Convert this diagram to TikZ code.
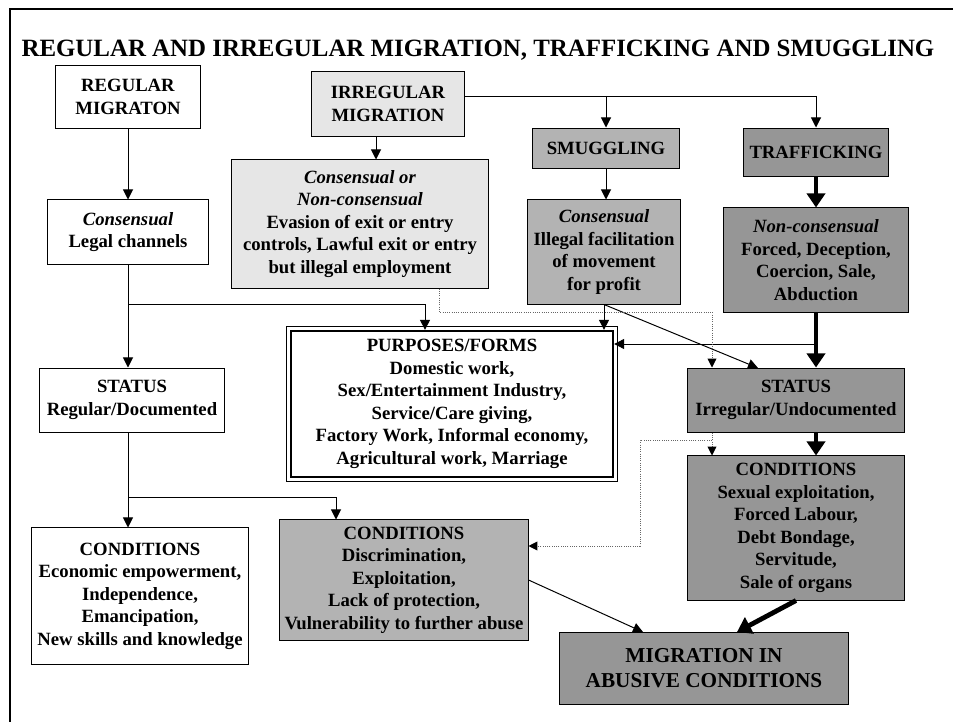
\documentclass[tikz,border=0pt]{standalone}
\usepackage{fontspec}
\setmainfont{Liberation Serif}
\usetikzlibrary{arrows.meta}
\definecolor{lightgr}{HTML}{E6E6E6}
\definecolor{midgr}{HTML}{B3B3B3}
\definecolor{darkgr}{HTML}{969696}
\newcommand{\boxfont}{\fontsize{13.3}{16}\selectfont\bfseries}

\begin{document}
\begin{tikzpicture}[x=0.025cm,y=-0.025cm,
  box/.style={draw,line width=0.7pt,align=center,inner sep=0pt,font=\boxfont},
  arr/.style={-{Triangle[length=2.5mm,width=2.5mm]},line width=0.7pt},
  fatarr/.style={-{Triangle[length=3.5mm,width=4.5mm]},line width=1.2mm},
  dotarr/.style={-{Triangle[length=2.2mm,width=2.2mm,color=black]},densely dotted,black!60,line width=0.6pt}]
\useasboundingbox (0,0) rectangle (953,722);
\draw[line width=2pt] (10,722) -- (10,9) -- (953,9);
\node[font=\fontsize{17.7}{20}\selectfont\bfseries] (title) at (478,50) {REGULAR AND IRREGULAR MIGRATION, TRAFFICKING AND SMUGGLING};
\node[box,minimum width=3.6cm,minimum height=1.55cm] (regmig) at (128,97) {REGULAR\\MIGRATON};
\node[box,fill=lightgr,minimum width=3.8cm,minimum height=1.6cm] (irrmig) at (388,104) {IRREGULAR\\MIGRATION};
\node[box,fill=midgr,minimum width=3.65cm,minimum height=1cm] (smug) at (606,148) {SMUGGLING};
\node[box,fill=darkgr,minimum width=3.6cm,minimum height=1.2cm] (traf) at (816,152) {TRAFFICKING};
\node[box,minimum width=4cm,minimum height=1.6cm] (legal) at (128,232) {\textit{Consensual}\\Legal channels};
\node[box,fill=lightgr,minimum width=6.4cm,minimum height=3.2cm] (evasion) at (360,224) {\textit{Consensual or}\\\textit{Non-consensual}\\Evasion of exit or entry\\controls, Lawful exit or entry\\but illegal employment};
\node[box,fill=midgr,minimum width=3.8cm,minimum height=2.6cm] (illegal) at (604,252) {\textit{Consensual}\\Illegal facilitation\\of movement\\for profit};
\node[box,fill=darkgr,minimum width=4.6cm,minimum height=2.6cm] (nonc) at (816,260) {\textit{Non-consensual}\\Forced, Deception,\\Coercion, Sale,\\Abduction};
\node[box,line width=1.6pt,minimum width=8.05cm,minimum height=3.65cm] (purp) at (452,404) {PURPOSES/FORMS\\Domestic work,\\Sex/Entertainment Industry,\\Service/Care giving,\\Factory Work, Informal economy,\\Agricultural work, Marriage};
\draw[line width=0.5pt] ([shift={(-0.08cm,0.08cm)}]purp.north west) rectangle ([shift={(0.08cm,-0.08cm)}]purp.south east);
\node[box,minimum width=4.6cm,minimum height=1.6cm] (streg) at (132,400) {STATUS\\Regular/Documented};
\node[box,fill=darkgr,minimum width=5.4cm,minimum height=1.6cm] (stirr) at (796,400) {STATUS\\Irregular/Undocumented};
\node[box,minimum width=5.4cm,minimum height=3.4cm] (condl) at (140,596) {CONDITIONS\\Economic empowerment,\\Independence,\\Emancipation,\\New skills and knowledge};
\node[box,fill=midgr,minimum width=6.2cm,minimum height=3cm] (condd) at (404,580) {CONDITIONS\\Discrimination,\\Exploitation,\\Lack of protection,\\Vulnerability to further abuse};
\node[box,fill=darkgr,minimum width=5.4cm,minimum height=3.6cm] (condr) at (796,528) {CONDITIONS\\Sexual exploitation,\\Forced Labour,\\Debt Bondage,\\Servitude,\\Sale of organs};
\node[box,fill=darkgr,minimum width=7.2cm,minimum height=1.8cm,font=\fontsize{15.1}{17.8}\selectfont\bfseries] (abuse) at (704,668) {MIGRATION IN\\ABUSIVE CONDITIONS};
\coordinate (j1) at (128,304);
\coordinate (j1e) at (425,304);
\coordinate (j2) at (128,497);
\coordinate (j2e) at (336,497);
\coordinate (tr) at (816,96);
\coordinate (tj) at (816,344);
\coordinate (sIn) at (758,368);
\coordinate (ie) at (376,136);
\coordinate (dA) at (439,312);
\coordinate (dB) at (712,312);
\coordinate (dC) at (712,440);
\coordinate (dD) at (640,440);
\coordinate (dE) at (640,546);
\coordinate (aA) at (643,632);
\coordinate (aB) at (737,632);
\draw[arr] (regmig.south) -- (legal.north);
\draw[arr] (legal.south) -- (legal.south |- streg.north);
\draw[arr] (j1) -- (j1e) -- (j1e |- purp.north);
\draw[arr] (streg.south -| legal) -- (condl.north -| legal);
\draw[arr] (j2) -- (j2e) -- (j2e |- condd.north);
\draw[line width=0.7pt] (irrmig.east |- tr) -- (tr);
\draw[arr] (tr) -- (traf.north);
\draw[arr] (smug.north |- tr) -- (smug.north);
\draw[arr] (irrmig.south -| ie) -- (evasion.north -| ie);
\draw[arr] (smug.south) -- (smug.south |- illegal.north);
\draw[fatarr] (traf.south) -- (traf.south |- nonc.north);
\draw[fatarr] (nonc.south) -- (nonc.south |- stirr.north);
\draw[arr] (tj) -- (tj -| purp.east);
\draw[arr] (illegal.south) -- (illegal.south |- purp.north);
\draw[arr] (illegal.south) -- (sIn);
\draw[fatarr] (stirr.south -| nonc) -- (condr.north -| nonc);
\draw[dotarr] (evasion.south -| dA) -- (dA) -- (dB) -- (stirr.north -| dB);
\draw[dotarr] (stirr.south -| dC) -- (condr.north -| dC);
\draw[dotarr] (dC) -- (dD) -- (dE) -- (dE -| condd.east);
\draw[arr] (condd.east) -- (aA);
\draw[fatarr] (condr.south) -- (aB);
\end{tikzpicture}
\end{document}
